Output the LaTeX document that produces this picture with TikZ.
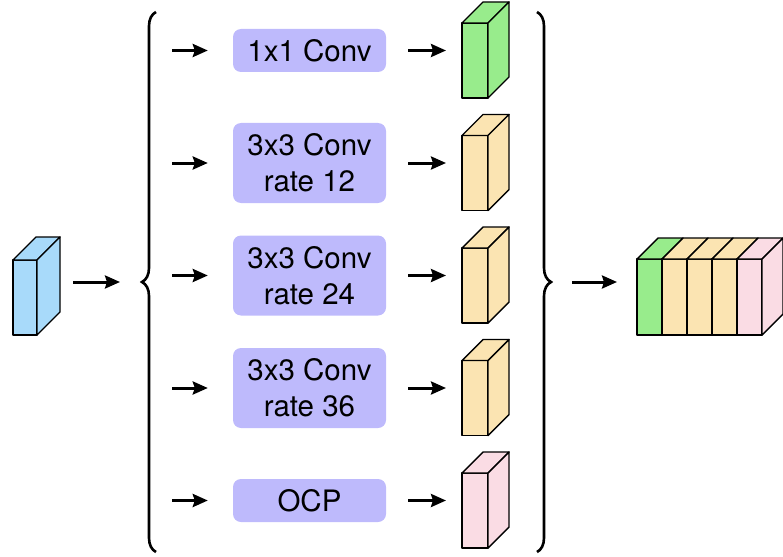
\documentclass[tikz,border=0pt]{standalone}
\usepackage{fontspec}
\setmainfont{TeX Gyre Heros}
\usetikzlibrary{arrows.meta,decorations.pathreplacing,calc}
\definecolor{cblue}{RGB}{168,218,250}
\definecolor{cgreen}{RGB}{152,236,140}
\definecolor{cyellow}{RGB}{251,228,178}
\definecolor{cpink}{RGB}{250,220,228}
\definecolor{cbox}{RGB}{190,186,252}
\tikzset{
  face/.style={draw=black, line width=1.4pt, line join=round, inner sep=0pt, outer sep=0pt},
  opbox/.style={fill=cbox, rounded corners=8pt, minimum width=153pt, align=center,
    font=\fontsize{29.5}{36}\selectfont, inner sep=0pt},
  arr/.style={line width=3pt, -{Stealth[length=15pt,width=13pt,inset=2pt]}},
  bracestyle/.style={line width=2.6pt, decorate, decoration={brace, amplitude=14pt, aspect=0.5}},
}
\newcommand\mycube[7]{%
  % #1 name, #2 x, #3 y (front top-left), #4 w, #5 h, #6 depth, #7 color
  \node[face, fill=#7, minimum width=#4pt, minimum height=#5pt, anchor=north west] (#1) at (#2,#3) {};
  \filldraw[face, fill=#7] (#1.north west) -- ++(#6,-#6) -- ++(#4,0) -- (#1.north east) -- cycle;
  \filldraw[face, fill=#7] (#1.north east) -- ++(#6,-#6) -- ++(0,#5) -- (#1.south east) -- cycle;
}
\begin{document}
\begin{tikzpicture}[x=1pt,y=-1pt]
\useasboundingbox (0,0) rectangle (783,556);

% input cube
\mycube{inp}{13}{260}{24}{75}{23}{cblue}

% braces
\draw[bracestyle] (156,552) -- (156,12);
\draw[bracestyle] (537,12) -- (537,552);

% arrows in and out
\coordinate (inA) at (73,282);
\coordinate (inB) at (120,282);
\draw[arr] (inA) -- (inB);

% branches
\node[opbox, minimum height=43pt] (b1) at (309.5,50.5) {1x1 Conv};
\node[opbox, minimum height=80pt] (b2) at (309.5,163) {3x3 Conv\\rate 12};
\node[opbox, minimum height=80pt] (b3) at (309.5,275.5) {3x3 Conv\\rate 24};
\node[opbox, minimum height=80pt] (b4) at (309.5,388) {3x3 Conv\\rate 36};
\node[opbox, minimum height=43pt] (b5) at (309.5,500.5) {OCP};

\mycube{c1}{462}{23}{26}{75}{21}{cgreen}
\mycube{c2}{462}{135.5}{26}{75}{21}{cyellow}
\mycube{c3}{462}{248}{26}{75}{21}{cyellow}
\mycube{c4}{462}{360.5}{26}{75}{21}{cyellow}
\mycube{c5}{462}{473}{26}{75}{21}{cpink}

\foreach \i/\y in {1/50.5,2/163,3/275.5,4/388,5/500.5}{
  \coordinate (s\i) at (172,\y);
  \draw[arr, shorten >=25pt] (s\i) -- (b\i.west |- s\i);
  \draw[arr, shorten <=22pt, shorten >=16pt] (b\i.east |- s\i) -- (c\i.west |- s\i);
}

% output arrow
\coordinate (outA) at (572,282);
\coordinate (outB) at (617,282);
\draw[arr] (outA) -- (outB);

% output stack
\foreach \i/\col in {0/cgreen,1/cyellow,2/cyellow,3/cyellow,4/cpink}{
  \node[face, fill=\col, minimum width=25pt, minimum height=76pt, anchor=north west] (o\i) at (637+25*\i,259) {};
  \filldraw[face, fill=\col] (o\i.north west) -- ++(21,-21) -- ++(25,0) -- (o\i.north east) -- cycle;
}
\filldraw[face, fill=cpink] (o4.north east) -- ++(21,-21) -- ++(0,76) -- (o4.south east) -- cycle;
\end{tikzpicture}
\end{document}
